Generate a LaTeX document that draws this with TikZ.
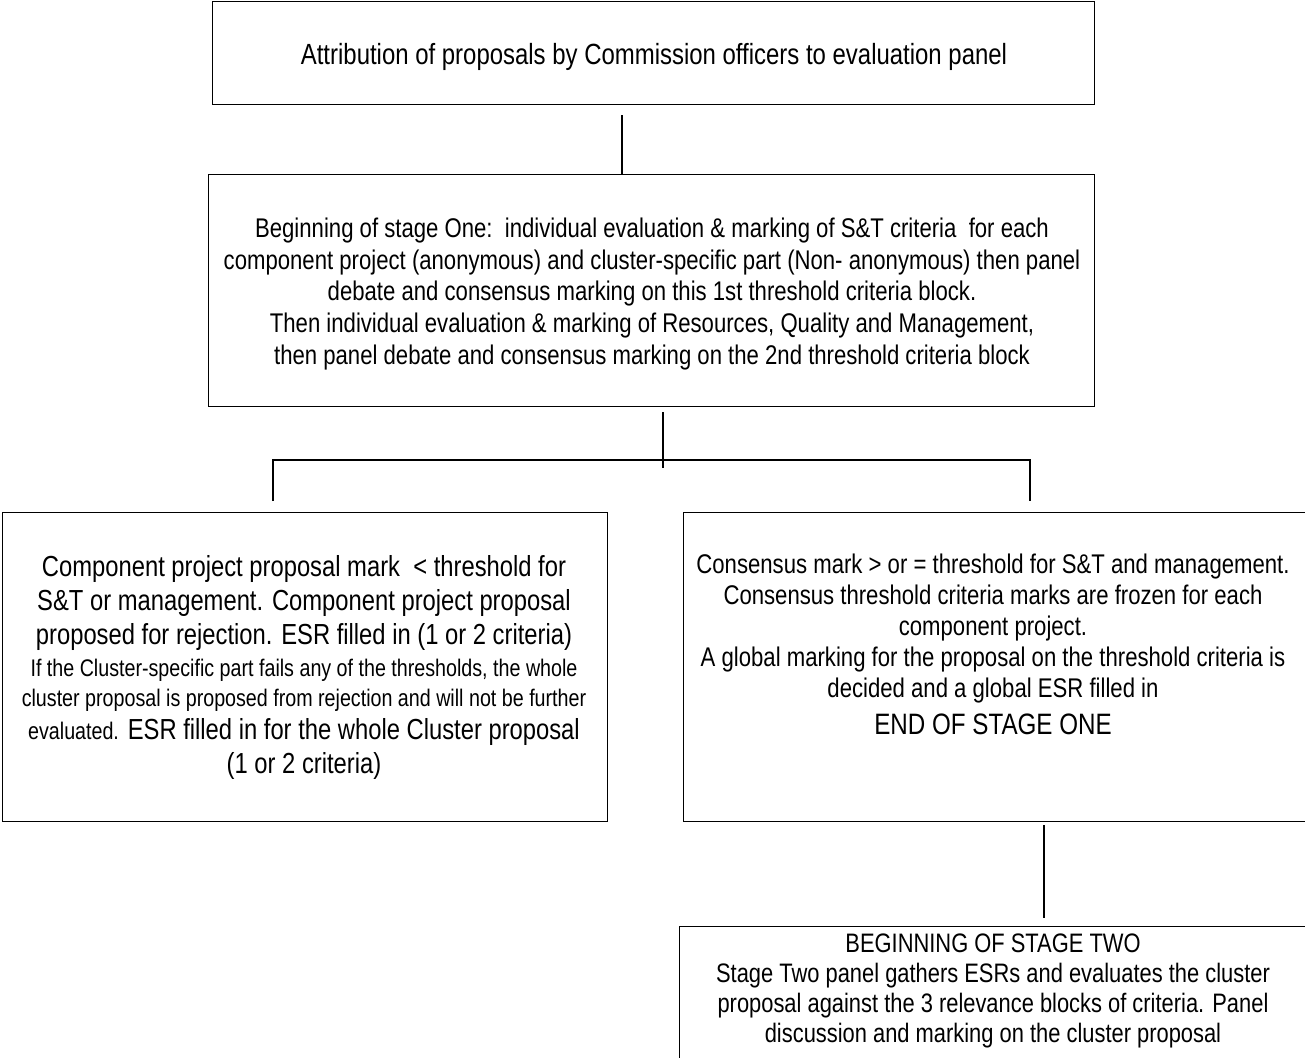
\documentclass[tikz,border=0pt]{standalone}
\usepackage{fontspec}
\setmainfont{Liberation Sans}[FakeStretch=0.82]
\usetikzlibrary{calc}
\begin{document}
\begin{tikzpicture}[x=1pt,y=-1pt,
  box/.style={draw, rectangle, line width=1.4pt, inner sep=0pt, anchor=north west},
  txt/.style={align=center, inner sep=0pt},
  conn/.style={line width=1.6pt}]
\useasboundingbox (0,0) rectangle (1305,1057);
% boxes
\node[box, minimum width=882pt, minimum height=103pt] (b1) at (212,1) {};
\node[box, minimum width=886pt, minimum height=232pt] (b2) at (208,174) {};
\node[box, minimum width=605pt, minimum height=309pt] (b3) at (2,512) {};
\node[box, minimum width=630pt, minimum height=309pt] (b4) at (683,512) {};
\node[box, minimum width=640pt, minimum height=160pt] (b5) at (679,926) {};
% texts
\node[txt, font=\fontsize{29.2}{33}\selectfont] (t1) at (654,57)
  {Attribution of proposals by Commission officers to evaluation panel};
\node[txt, font=\fontsize{27}{31.75}\selectfont] (t2) at (652,294)
  {Beginning of stage One:\ \ individual evaluation \& marking of S\&T criteria\ \ for each\\
   component project (anonymous) and cluster-specific part (Non- anonymous) then panel\\
   debate and consensus marking on this 1st threshold criteria block.\\
   Then individual evaluation \& marking of Resources, Quality and Management,\\
   then panel debate and consensus marking on the 2nd threshold criteria block};
\node[txt, font=\fontsize{29}{34}\selectfont] (t3) at (304,667)
  {Component project proposal mark\ \ < threshold for\\
   S\&T or management. Component project proposal\\
   proposed for rejection. ESR filled in (1 or 2 criteria)\\[-2pt]
   {\fontsize{24}{34}\selectfont If the Cluster-specific part fails any of the thresholds, the whole}\\[-4pt]
   {\fontsize{24}{34}\selectfont cluster proposal is proposed from rejection and will not be further}\\[-1pt]
   {\fontsize{24}{34}\selectfont evaluated.} ESR filled in for the whole Cluster proposal\\
   (1 or 2 criteria)};
\node[txt, font=\fontsize{27}{31}\selectfont] (t4) at (993,644)
  {Consensus mark > or = threshold for S\&T and management.\\
   Consensus threshold criteria marks are frozen for each\\
   component project.\\
   A global marking for the proposal on the threshold criteria is\\
   decided and a global ESR filled in\\[6pt]
   {\fontsize{29.5}{31}\selectfont END OF STAGE ONE}};
\node[txt, font=\fontsize{26.7}{30}\selectfont] (t5) at (993,990.5)
  {BEGINNING OF STAGE TWO\\
   Stage Two panel gathers ESRs and evaluates the cluster\\
   proposal against the 3 relevance blocks of criteria. Panel\\
   discussion and marking on the cluster proposal};
% connector points
\coordinate (j1) at (622,115);
\coordinate (j2) at (663,412);
\coordinate (j2b) at (663,468);
\coordinate (hl) at (273,460);
\coordinate (hr) at (1030,460);
\coordinate (vl) at (273,501);
\coordinate (vr) at (1030,501);
\coordinate (j3) at (1044,825);
\coordinate (j3b) at (1044,918);
% connectors
\draw[conn] (j1) -- (j1 |- b2.north);
\draw[conn] (j2) -- (j2b);
\draw[conn] (vl) -- (hl) -- (hr) -- (vr);
\draw[conn] (j3) -- (j3b);
\end{tikzpicture}
\end{document}
